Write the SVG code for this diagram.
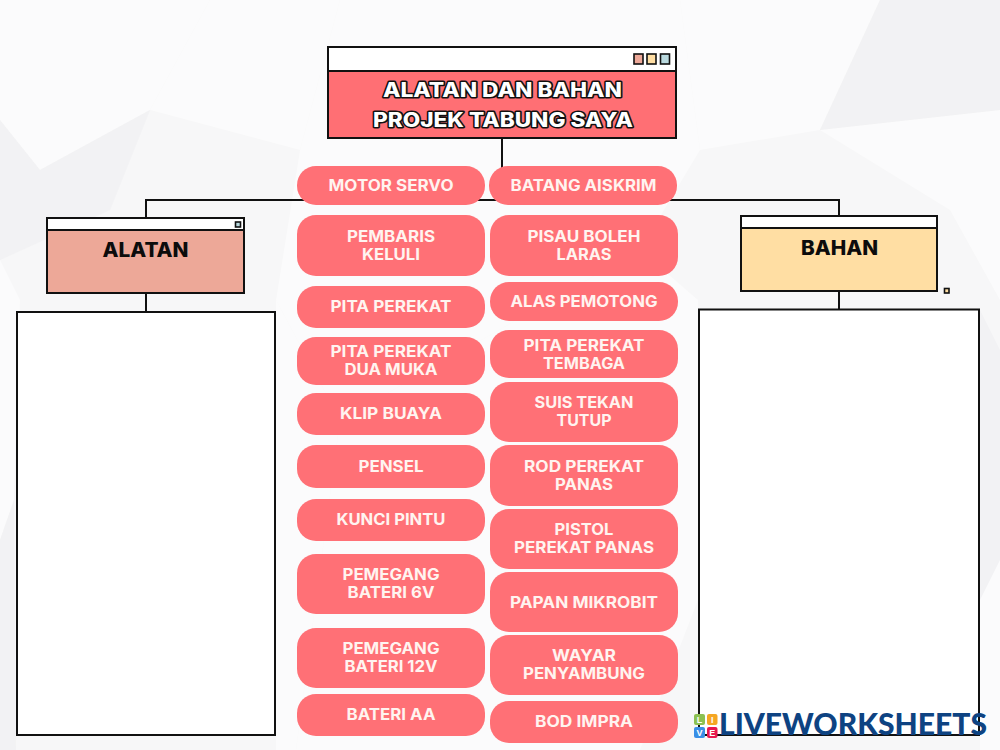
<svg xmlns="http://www.w3.org/2000/svg" width="1000" height="750" viewBox="0 0 1000 750">
<style>
.paper{fill:#ffffff;opacity:.5}
.crease{fill:#eeeeef;opacity:.5}
.pill{fill:#ff7076}
.pt{font-family:"Inter","Liberation Sans",sans-serif;font-weight:700;font-size:15.5px;fill:#fff4f0;text-anchor:middle}
.frame{stroke:#111;stroke-width:2;fill:#fff}
.fillbox{stroke:#111;stroke-width:2}
.btn{stroke:#111;stroke-width:1.6}
.title{font-family:"Inter","Liberation Sans",sans-serif;font-weight:800;font-size:20px;fill:#fff;stroke:#111;stroke-width:3;paint-order:stroke;stroke-linejoin:round;text-anchor:middle}
.head{font-family:"Inter","Liberation Sans",sans-serif;font-weight:800;font-size:20px;fill:#0c0c0c;text-anchor:middle}
.conn{fill:none;stroke:#111;stroke-width:2}
.lv{font-family:"Lato","Liberation Sans",sans-serif;font-weight:900;font-size:30px;fill:#0e4382}
.lvs{font-family:"Liberation Sans",sans-serif;font-weight:700;font-size:9px;fill:#fff;text-anchor:middle}
</style>
<rect width="1000" height="750" fill="#f7f7f8"/>
<g id="background">
<polygon class="paper" points="0,0 210,0 150,110 40,170 0,120"/>
<polygon class="paper" points="210,0 340,0 300,150 150,110"/>
<polygon class="crease" points="40,170 150,110 110,210 0,260 0,120"/>
<polygon class="paper" points="680,0 880,0 820,130 700,150"/>
<polygon class="crease" points="880,0 1000,0 1000,110 820,130"/>
<polygon class="paper" points="820,130 1000,110 1000,300 950,210"/>
<polygon class="paper" points="0,260 20,300 14,500 0,540"/>
<polygon class="crease" points="0,540 14,500 16,750 0,750"/>
<polygon class="paper" points="276,300 340,420 296,750 276,750"/>
<polygon class="paper" points="640,250 698,300 698,600 640,750"/>
<polygon class="paper" points="340,420 640,250 640,750 296,750"/>
<polygon class="paper" points="300,150 700,150 640,250 340,420 276,300"/>
<polygon class="crease" points="980,310 1000,350 1000,560 980,600"/>
<polygon class="paper" points="980,600 1000,560 1000,750 980,750"/>
<polygon class="paper" points="340,0 680,0 700,150 300,150"/>
</g>
<g id="connectors">
<path class="conn" d="M502 138V200"/>
<path class="conn" d="M146 218V200H839V216"/>
<path class="conn" d="M146 293V312"/>
<path class="conn" d="M839 291V310"/>
</g>
<g id="title-node">
<rect class="frame" x="328" y="47" width="348" height="24"/>
<rect class="fillbox" x="328" y="71" width="348" height="67" fill="#ff6f74"/>
<rect class="btn" x="634" y="54" width="9" height="10" fill="#eda898"/>
<rect class="btn" x="647" y="54" width="9" height="10" fill="#ffdea3"/>
<rect class="btn" x="660.500" y="54" width="9" height="10" fill="#b9d9de"/>
<text class="title" x="502.500" y="97" textLength="239" lengthAdjust="spacingAndGlyphs">ALATAN DAN BAHAN</text>
<text class="title" x="503" y="127" textLength="260" lengthAdjust="spacingAndGlyphs">PROJEK TABUNG SAYA</text>
</g>
<g id="alatan-node">
<rect class="frame" x="47" y="218" width="197" height="12"/>
<rect class="fillbox" x="47" y="230" width="197" height="63" fill="#eda898"/>
<rect class="btn" x="235.500" y="222" width="5" height="5" fill="#b9d9de"/>
<text class="head" x="145.500" y="257" textLength="86" lengthAdjust="spacingAndGlyphs">ALATAN</text>
</g>
<g id="bahan-node">
<rect class="frame" x="741" y="216" width="196" height="12"/>
<rect class="fillbox" x="741" y="228" width="196" height="63" fill="#ffdea3"/>
<rect class="btn" x="944.500" y="288.500" width="4.500" height="4.500" fill="#ffdea3"/>
<text class="head" x="839.500" y="255" textLength="77" lengthAdjust="spacingAndGlyphs">BAHAN</text>
</g>
<g id="alatan-answer"><rect class="frame" x="17" y="312" width="258" height="423"/></g>
<g id="bahan-answer"><rect class="frame" x="699" y="309.500" width="280" height="425.500"/></g>

<g id="motor-servo"><rect class="pill" x="297" y="166" width="188" height="39" rx="19"/><text class="pt" x="391" y="191" textLength="125" lengthAdjust="spacingAndGlyphs">MOTOR SERVO</text></g>
<g id="pembaris-keluli"><rect class="pill" x="297" y="215" width="188" height="61" rx="19"/><text class="pt" x="391" y="242" textLength="88" lengthAdjust="spacingAndGlyphs">PEMBARIS</text><text class="pt" x="391" y="260" textLength="58" lengthAdjust="spacingAndGlyphs">KELULI</text></g>
<g id="pita-perekat"><rect class="pill" x="297" y="286" width="188" height="42" rx="19"/><text class="pt" x="391" y="312" textLength="121" lengthAdjust="spacingAndGlyphs">PITA PEREKAT</text></g>
<g id="pita-perekat-dua-muka"><rect class="pill" x="297" y="337" width="188" height="48" rx="19"/><text class="pt" x="391" y="357" textLength="121" lengthAdjust="spacingAndGlyphs">PITA PEREKAT</text><text class="pt" x="391" y="375" textLength="93" lengthAdjust="spacingAndGlyphs">DUA MUKA</text></g>
<g id="klip-buaya"><rect class="pill" x="297" y="393" width="188" height="42" rx="19"/><text class="pt" x="391" y="419" textLength="102" lengthAdjust="spacingAndGlyphs">KLIP BUAYA</text></g>
<g id="pensel"><rect class="pill" x="297" y="445" width="188" height="43" rx="19"/><text class="pt" x="391" y="472" textLength="65" lengthAdjust="spacingAndGlyphs">PENSEL</text></g>
<g id="kunci-pintu"><rect class="pill" x="297" y="499" width="188" height="42" rx="19"/><text class="pt" x="391" y="525" textLength="109" lengthAdjust="spacingAndGlyphs">KUNCI PINTU</text></g>
<g id="pemegang-bateri-6v"><rect class="pill" x="297" y="554" width="188" height="60" rx="19"/><text class="pt" x="391" y="580" textLength="97" lengthAdjust="spacingAndGlyphs">PEMEGANG</text><text class="pt" x="391" y="598" textLength="87" lengthAdjust="spacingAndGlyphs">BATERI 6V</text></g>
<g id="pemegang-bateri-12v"><rect class="pill" x="297" y="628" width="188" height="60" rx="19"/><text class="pt" x="391" y="654" textLength="97" lengthAdjust="spacingAndGlyphs">PEMEGANG</text><text class="pt" x="391" y="672" textLength="93" lengthAdjust="spacingAndGlyphs">BATERI 12V</text></g>
<g id="bateri-aa"><rect class="pill" x="297" y="694" width="188" height="42" rx="19"/><text class="pt" x="391" y="720" textLength="89" lengthAdjust="spacingAndGlyphs">BATERI AA</text></g>

<g id="batang-aiskrim"><rect class="pill" x="489" y="166" width="188" height="39" rx="19"/><text class="pt" x="583.500" y="191" textLength="146" lengthAdjust="spacingAndGlyphs">BATANG AISKRIM</text></g>
<g id="pisau-boleh-laras"><rect class="pill" x="490" y="215" width="188" height="61" rx="19"/><text class="pt" x="584" y="242" textLength="113" lengthAdjust="spacingAndGlyphs">PISAU BOLEH</text><text class="pt" x="584" y="260" textLength="55" lengthAdjust="spacingAndGlyphs">LARAS</text></g>
<g id="alas-pemotong"><rect class="pill" x="490" y="282" width="188" height="39" rx="19"/><text class="pt" x="584" y="307" textLength="147" lengthAdjust="spacingAndGlyphs">ALAS PEMOTONG</text></g>
<g id="pita-perekat-tembaga"><rect class="pill" x="490" y="330" width="188" height="48" rx="19"/><text class="pt" x="584" y="351" textLength="121" lengthAdjust="spacingAndGlyphs">PITA PEREKAT</text><text class="pt" x="584" y="369" textLength="82" lengthAdjust="spacingAndGlyphs">TEMBAGA</text></g>
<g id="suis-tekan-tutup"><rect class="pill" x="490" y="382" width="188" height="60" rx="19"/><text class="pt" x="584" y="408" textLength="99" lengthAdjust="spacingAndGlyphs">SUIS TEKAN</text><text class="pt" x="584" y="426" textLength="55" lengthAdjust="spacingAndGlyphs">TUTUP</text></g>
<g id="rod-perekat-panas"><rect class="pill" x="490" y="445" width="188" height="61" rx="19"/><text class="pt" x="584" y="472" textLength="120" lengthAdjust="spacingAndGlyphs">ROD PEREKAT</text><text class="pt" x="584" y="490" textLength="58" lengthAdjust="spacingAndGlyphs">PANAS</text></g>
<g id="pistol-perekat-panas"><rect class="pill" x="490" y="509" width="188" height="60" rx="19"/><text class="pt" x="584" y="535" textLength="59" lengthAdjust="spacingAndGlyphs">PISTOL</text><text class="pt" x="584" y="553" textLength="140" lengthAdjust="spacingAndGlyphs">PEREKAT PANAS</text></g>
<g id="papan-mikrobit"><rect class="pill" x="490" y="572" width="188" height="60" rx="19"/><text class="pt" x="584" y="608" textLength="148" lengthAdjust="spacingAndGlyphs">PAPAN MIKROBIT</text></g>
<g id="wayar-penyambung"><rect class="pill" x="490" y="635" width="188" height="60" rx="19"/><text class="pt" x="584" y="661" textLength="64" lengthAdjust="spacingAndGlyphs">WAYAR</text><text class="pt" x="584" y="679" textLength="122" lengthAdjust="spacingAndGlyphs">PENYAMBUNG</text></g>
<g id="bod-impra"><rect class="pill" x="490" y="701" width="188" height="42" rx="19"/><text class="pt" x="584" y="727" textLength="98" lengthAdjust="spacingAndGlyphs">BOD IMPRA</text></g>

<g id="logo">
<rect x="694" y="714" width="11" height="11" rx="2" fill="#8cc152"/>
<rect x="707" y="714" width="10.500" height="11" rx="2" fill="#f5a623"/>
<rect x="694" y="727" width="11" height="11" rx="2" fill="#3a8ee6"/>
<rect x="707" y="727" width="10.500" height="11" rx="2" fill="#e8174f"/>
<text class="lvs" x="699.500" y="723">L</text>
<text class="lvs" x="712.200" y="723">I</text>
<text class="lvs" x="699.500" y="736">V</text>
<text class="lvs" x="712.200" y="736">E</text>
<text class="lv" x="719" y="735" textLength="268" lengthAdjust="spacingAndGlyphs">LIVEWORKSHEETS</text>
</g>
</svg>
